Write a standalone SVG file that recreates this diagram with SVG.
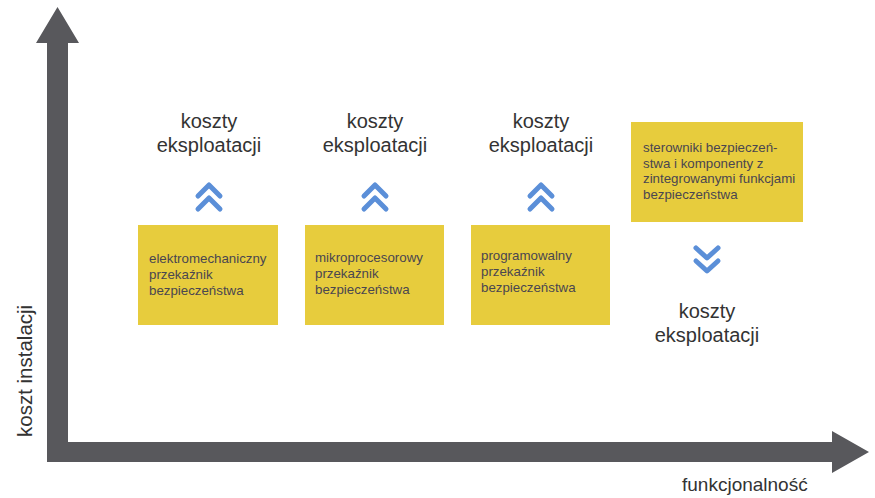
<svg xmlns="http://www.w3.org/2000/svg" width="875" height="498" viewBox="0 0 875 498">
<style>
.axis{fill:#58585c}
.chev{fill:none;stroke:#5b8fd8;stroke-width:5;stroke-linecap:round;stroke-linejoin:round}
.box{fill:#e7cc3d}
.lbl{font-family:"Liberation Sans",Arial,sans-serif;font-size:20px;fill:#333333;text-anchor:middle}
.bt{font-family:"Liberation Sans",Arial,sans-serif;font-size:13.3px;fill:#4a4650}
.ax{font-family:"Liberation Sans",Arial,sans-serif;fill:#333333}
</style>
<rect width="875" height="498" fill="#ffffff"/>
<g id="axes">
<path class="axis" d="M57.5,7 L79,43 L68,43 L68,442 L832,442 L832,431 L869,452 L832,473 L832,462 L47,462 L47,43 L36,43 Z"/>
<text class="ax" font-size="20.5" x="0" y="0" transform="translate(32,437) rotate(-90)">koszt instalacji</text>
<text class="ax" font-size="19" x="682" y="491">funkcjonalność</text>
</g>
<g id="connectors">
<polyline class="chev" points="198,196 209,185 220,196"/>
<polyline class="chev" points="198,209 209,198 220,209"/>
<polyline class="chev" points="364,196 375,185 386,196"/>
<polyline class="chev" points="364,209 375,198 386,209"/>
<polyline class="chev" points="530,196 541,185 552,196"/>
<polyline class="chev" points="530,209 541,198 552,209"/>
<polyline class="chev" points="696,248 707,258 718,248"/>
<polyline class="chev" points="696,261 707,271 718,261"/>
</g>
<g id="label1">
<text class="lbl" x="209" y="128">koszty</text>
<text class="lbl" x="209" y="152">eksploatacji</text>
</g>
<g id="label2">
<text class="lbl" x="375" y="128">koszty</text>
<text class="lbl" x="375" y="152">eksploatacji</text>
</g>
<g id="label3">
<text class="lbl" x="541" y="128">koszty</text>
<text class="lbl" x="541" y="152">eksploatacji</text>
</g>
<g id="label4">
<text class="lbl" x="707" y="318">koszty</text>
<text class="lbl" x="707" y="342">eksploatacji</text>
</g>
<g id="box1">
<rect class="box" x="138" y="225" width="140" height="100"/>
<text class="bt" x="149" y="263">elektromechaniczny</text>
<text class="bt" x="149" y="279">przekaźnik</text>
<text class="bt" x="149" y="295">bezpieczeństwa</text>
</g>
<g id="box2">
<rect class="box" x="305" y="225" width="139" height="100"/>
<text class="bt" x="315" y="262">mikroprocesorowy</text>
<text class="bt" x="315" y="278">przekaźnik</text>
<text class="bt" x="315" y="294">bezpieczeństwa</text>
</g>
<g id="box3">
<rect class="box" x="471" y="225" width="139" height="100"/>
<text class="bt" x="481" y="260">programowalny</text>
<text class="bt" x="481" y="276">przekaźnik</text>
<text class="bt" x="481" y="292">bezpieczeństwa</text>
</g>
<g id="box4">
<rect class="box" x="631" y="122" width="172" height="100"/>
<text class="bt" x="643" y="152">sterowniki bezpieczeń-</text>
<text class="bt" x="643" y="167.5">stwa i komponenty z</text>
<text class="bt" x="643" y="183">zintegrowanymi funkcjami</text>
<text class="bt" x="643" y="198.5">bezpieczeństwa</text>
</g>
</svg>
